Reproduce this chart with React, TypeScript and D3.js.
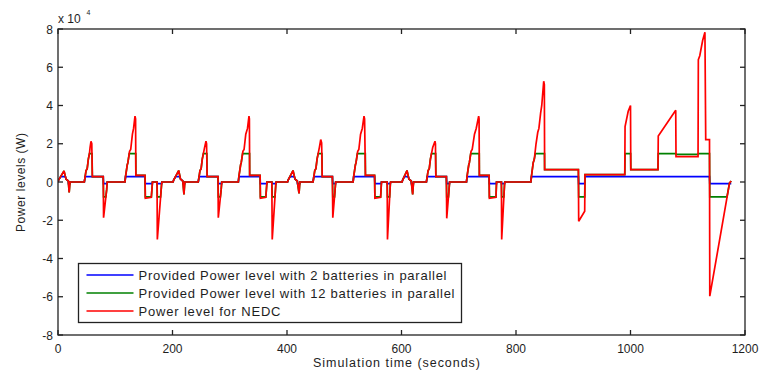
import React from 'react';
import * as d3 from 'd3';

type Pt = [number, number];

// Time axis (seconds) and power axis (W)
const xTicks = [0, 200, 400, 600, 800, 1000, 1200];
const yTicks = [-80000, -60000, -40000, -20000, 0, 20000, 40000, 60000, 80000];

const legendLabels = [
  'Provided Power level with 2 batteries  in parallel',
  'Provided Power level with 12 batteries  in parallel',
  'Power level for NEDC',
];

// Power demanded by the NEDC cycle (W)
const powerNEDC: Pt[] = [
  // urban cycle 1
  [0, 0], [1, 1000], [10.5, 5800], [14, 1500], [18, 500], [19.5, -5500], [21, 0],
  [46, 0], [47, 2000], [49, 6000], [51, 7000], [53, 12000], [55, 15000], [56, 18000], [57.6, 21300], [59, 20000], [60, 2800],
  [79, 2800], [79.6, -18700], [85, -4000], [86, 0],
  [117, 0], [118, 3000], [121, 9000], [122, 10000], [125, 16000], [127, 17000], [130, 25000], [132, 28000], [134.5, 34400], [135.5, 33000], [136, 3500],
  [152, 3500], [152.5, -8500], [163, -8000], [165, 0],
  [173, 0], [173.5, -30000], [181, -1000], [181.5, 0],
  // urban cycle 2
  [201, 0], [202, 1000], [210.8, 6000], [214, 1500], [218, 500], [220, -6500], [221.5, 0],
  [245, 0], [246, 2000], [248, 6000], [250, 7000], [252, 12000], [254, 15000], [256, 18000], [258.5, 21300], [259.5, 20000], [260.5, 2800],
  [279.5, 2800], [280, -18700], [285, -4000], [286, 0],
  [315, 0], [316, 3000], [319, 9000], [320, 10000], [323, 16000], [325, 17000], [328, 25000], [331, 28000], [333.6, 34400], [334.3, 33000], [334.8, 3500],
  [353, 3500], [353.5, -8500], [363, -8000], [365, 0],
  [373.5, 0], [374.2, -30000], [380.5, -1000], [381, 0],
  // urban cycle 3
  [401, 0], [402, 1000], [410.5, 6000], [414, 1500], [418, 500], [421, -6000], [422.5, 0],
  [445.5, 0], [446.5, 2000], [448.5, 6000], [450.5, 7000], [452.5, 12000], [454.5, 15000], [456.5, 18000], [458.9, 22200], [460.5, 20500], [461.5, 2800],
  [479.3, 2800], [480, -18700], [484, -4000], [485, 0],
  [515.5, 0], [516.5, 3000], [519.5, 9000], [520.5, 10000], [523.5, 16000], [525.5, 17000], [528.5, 25000], [531.5, 28000], [534.5, 34400], [535.5, 33000], [537, 3500],
  [553, 3500], [553.5, -8500], [563.5, -8000], [565, 0],
  [575, 0], [575.5, -30000], [580.5, -1000], [581, 0],
  // urban cycle 4
  [601, 0], [602, 1000], [609.6, 6000], [613, 1500], [617, 500], [619.5, -6500], [621, 0],
  [643.5, 0], [644.5, 2000], [646.5, 6000], [648.5, 7000], [650.5, 12000], [652.5, 15000], [654.5, 18000], [658.5, 21300], [659.3, 20000], [660, 2800],
  [678.4, 2800], [679, -19000], [683, -4000], [684, 0],
  [713.5, 0], [714.5, 3000], [717.5, 9000], [718.5, 10000], [721.5, 16000], [723.5, 17000], [727.5, 25000], [730.5, 28000], [734.8, 34400], [735.5, 33000], [736, 3500],
  [753, 3500], [753.5, -8500], [765, -8000], [766, 0],
  [774.5, 0], [775, -30000], [780, -1000], [780.5, 0],
  // extra-urban cycle
  [826, 0], [827, 3000], [830, 10000], [832, 12000], [835, 20000], [838, 26000], [840, 28000], [843, 36000], [845, 40000], [848.4, 52700], [849.5, 51000], [850, 6500],
  [909, 6500], [909.5, -20500], [920, -15300], [920.5, 3900],
  [990, 3900], [990.5, 29000], [996, 37000], [1000, 40000], [1000.5, 6500],
  [1048, 6500], [1048.5, 24000], [1079, 37500], [1079.5, 13300],
  [1118, 13300], [1118.5, 64000], [1121, 66000], [1126, 74000], [1130, 78300], [1131.4, 22200],
  [1138, 22200], [1138.5, -59700], [1173, -500], [1176, 500],
];

// Power provided with 2 batteries in parallel (W)
const power2Batt: Pt[] = [
  [0, 0], [1, 1000], [4.8, 2800], [12.9, 2800], [14, 1500], [18, 500], [18.3, -800], [20.8, -800], [21, 0],
  [46, 0], [47, 2000], [47.3, 2800], [79, 2800], [79.6, -800], [85.8, -800], [86, 0],
  [117, 0], [118, 2800], [152, 2800], [152.5, -800], [164.8, -800], [165, 0],
  [173, 0], [173.1, -800], [181, -800], [181.5, 0],
  [201, 0], [202, 1000], [205.5, 2800], [213, 2800], [214, 1500], [218, 500], [218.3, -800], [221.3, -800], [221.5, 0],
  [245, 0], [246, 2000], [246.3, 2800], [279.5, 2800], [280, -800], [285.8, -800], [286, 0],
  [315, 0], [316, 2800], [353, 2800], [353.5, -800], [364.8, -800], [365, 0],
  [373.5, 0], [373.6, -800], [380.5, -800], [381, 0],
  [401, 0], [402, 1000], [405.5, 2800], [412.7, 2800], [414, 1500], [418, 500], [418.3, -800], [422.3, -800], [422.5, 0],
  [445.5, 0], [446.5, 2000], [446.8, 2800], [479.3, 2800], [480, -800], [484.8, -800], [485, 0],
  [515.5, 0], [516.5, 2800], [553, 2800], [553.5, -800], [564.8, -800], [565, 0],
  [575, 0], [575.1, -800], [580.5, -800], [581, 0],
  [601, 0], [602, 1000], [605, 2800], [611.8, 2800], [613, 1500], [617, 500], [617.3, -800], [620.8, -800], [621, 0],
  [643.5, 0], [644.5, 2000], [644.8, 2800], [678.4, 2800], [679, -800], [683.8, -800], [684, 0],
  [713.5, 0], [714.5, 2800], [753, 2800], [753.5, -800], [765.9, -800], [766, 0],
  [774.5, 0], [774.6, -800], [780, -800], [780.5, 0],
  [826, 0], [827, 2800], [909, 2800], [909.5, -800], [920, -800], [920.5, 2800],
  [1138, 2800], [1138.5, -800], [1176, -800],
];

// Power provided with 12 batteries in parallel (W)
const power12Batt: Pt[] = [
  [0, 0], [1, 1000], [10.5, 5800], [14, 1500], [18, 500], [19.5, -5500], [21, 0],
  [46, 0], [47, 2000], [49, 6000], [51, 7000], [53, 12000], [54.9, 14800], [59.5, 14800], [60, 2800],
  [79, 2800], [79.6, -7800], [83.6, -7800], [85, -4000], [86, 0],
  [117, 0], [118, 3000], [121, 9000], [122, 10000], [124.4, 14800], [135.8, 14800], [136, 3500],
  [152, 3500], [152.5, -7800], [163.1, -7800], [165, 0],
  [173, 0], [173.5, -7800], [179.2, -7800], [181, -1000], [181.5, 0],
  [201, 0], [202, 1000], [210.8, 6000], [214, 1500], [218, 500], [220, -6500], [221.5, 0],
  [245, 0], [246, 2000], [248, 6000], [250, 7000], [252, 12000], [253.9, 14800], [260, 14800], [260.5, 2800],
  [279.5, 2800], [280, -7800], [283.6, -7800], [285, -4000], [286, 0],
  [315, 0], [316, 3000], [319, 9000], [320, 10000], [322.4, 14800], [334.6, 14800], [334.8, 3500],
  [353, 3500], [353.5, -7800], [363.1, -7800], [365, 0],
  [373.5, 0], [374.2, -7800], [379, -7800], [380.5, -1000], [381, 0],
  [401, 0], [402, 1000], [410.5, 6000], [414, 1500], [418, 500], [421, -6000], [422.5, 0],
  [445.5, 0], [446.5, 2000], [448.5, 6000], [450.5, 7000], [452.5, 12000], [454.4, 14800], [461, 14800], [461.5, 2800],
  [479.3, 2800], [480, -7800], [483.1, -7800], [484, -4000], [485, 0],
  [515.5, 0], [516.5, 3000], [519.5, 9000], [520.5, 10000], [522.9, 14800], [536.8, 14800], [537, 3500],
  [553, 3500], [553.5, -7800], [563.6, -7800], [565, 0],
  [575, 0], [575.5, -7800], [579.3, -7800], [580.5, -1000], [581, 0],
  [601, 0], [602, 1000], [609.6, 6000], [613, 1500], [617, 500], [619.5, -6500], [621, 0],
  [643.5, 0], [644.5, 2000], [646.5, 6000], [648.5, 7000], [650.5, 12000], [652.4, 14800], [659.6, 14800], [660, 2800],
  [678.4, 2800], [679, -7800], [682.1, -7800], [683, -4000], [684, 0],
  [713.5, 0], [714.5, 3000], [717.5, 9000], [718.5, 10000], [720.9, 14800], [735.8, 14800], [736, 3500],
  [753, 3500], [753.5, -7800], [765.1, -7800], [766, 0],
  [774.5, 0], [775, -7800], [778.8, -7800], [780, -1000], [780.5, 0],
  [826, 0], [827, 3000], [830, 10000], [832, 12000], [833.7, 14800], [849.8, 14800], [850, 6500],
  [909, 6500], [909.5, -7800], [920, -7800], [920.5, 3900],
  [990, 3900], [990.5, 14800], [1000.2, 14800], [1000.5, 6500],
  [1048, 6500], [1048.5, 14800], [1079.2, 14800], [1079.5, 14400],
  [1118, 14400], [1118.5, 14800], [1138, 14800], [1138.5, -7800], [1168.5, -7800], [1173, -500], [1176, 500],
];

const series = [
  { data: power2Batt, color: '#0000ff' },
  { data: power12Batt, color: '#008000' },
  { data: powerNEDC, color: '#ff0000' },
];

const FONT = '"Liberation Sans", Arial, sans-serif';
const TXT = '#1e1e1e';

export default function App() {
  const W = 760;
  const H = 374;
  const x0 = 58, x1 = 745, yTop = 29, yBot = 335;
  const x = d3.scaleLinear().domain([0, 1200]).range([x0, x1]);
  const y = d3.scaleLinear().domain([-80000, 80000]).range([yBot, yTop]);
  const line = d3.line<Pt>().x(d => x(d[0])).y(d => y(d[1]));
  const tl = 5;

  const legX = 78.5, legY = 263.5, legW = 383, legH = 59;
  const rowY = [275, 293, 311];
  const legLen = [308, 316, 142];

  return (
    <svg width={W} height={H} style={{ position: 'absolute', left: 0, top: 0, background: '#fff' }}
      xmlns="http://www.w3.org/2000/svg">
      <rect x={0} y={0} width={W} height={H} fill="#fff" />
      <defs>
        <clipPath id="plotclip">
          <rect x={x0} y={yTop} width={x1 - x0} height={yBot - yTop} />
        </clipPath>
      </defs>

      <g clipPath="url(#plotclip)">
        {series.map((s, i) => (
          <path key={i} d={line(s.data) || ''} fill="none" stroke={s.color} strokeWidth={1.7}
            strokeLinejoin="miter" strokeMiterlimit={2} />
        ))}
      </g>

      {/* frame */}
      <rect x={x0} y={yTop} width={x1 - x0} height={yBot - yTop} fill="none" stroke="#222" strokeWidth={1.3} />

      {/* x ticks */}
      {xTicks.map(t => (
        <g key={'x' + t}>
          <line x1={x(t)} x2={x(t)} y1={yBot} y2={yBot - tl} stroke="#222" strokeWidth={1.3} />
          <line x1={x(t)} x2={x(t)} y1={yTop} y2={yTop + tl} stroke="#222" strokeWidth={1.3} />
          <text x={x(t)} y={353} textAnchor="middle" fontFamily={FONT} fontSize={12} fill={TXT}>{t}</text>
        </g>
      ))}

      {/* y ticks */}
      {yTicks.map(v => (
        <g key={'y' + v}>
          <line x1={x0} x2={x0 + tl} y1={y(v)} y2={y(v)} stroke="#222" strokeWidth={1.3} />
          <line x1={x1} x2={x1 - tl} y1={y(v)} y2={y(v)} stroke="#222" strokeWidth={1.3} />
          <text x={53} y={y(v) + 4.5} textAnchor="end" fontFamily={FONT} fontSize={12} fill={TXT}>{String(v / 10000)}</text>
        </g>
      ))}

      {/* exponent */}
      <text x={58} y={23} fontFamily={FONT} fontSize={12} fill={TXT}>x 10</text>
      <text x={86.5} y={15} fontFamily={FONT} fontSize={7} fill={TXT}>4</text>

      {/* axis labels */}
      <text x={396.5} y={367} textAnchor="middle" fontFamily={FONT} fontSize={12.5} fill={TXT}
        textLength={167} lengthAdjust="spacing">Simulation time (seconds)</text>
      <text transform="translate(25,182.5) rotate(-90)" textAnchor="middle" fontFamily={FONT} fontSize={12}
        fill={TXT} textLength={99} lengthAdjust="spacing">Power levels (W)</text>

      {/* legend */}
      <rect x={legX} y={legY} width={legW} height={legH} fill="#fff" stroke="#222" strokeWidth={1.3} />
      {series.map((s, i) => (
        <g key={'l' + i}>
          <line x1={86.5} x2={133.5} y1={rowY[i]} y2={rowY[i]} stroke={s.color} strokeWidth={1.7} />
          <text x={138.5} y={rowY[i] + 4.8} fontFamily={FONT} fontSize={13} fill={TXT}
            textLength={legLen[i]} lengthAdjust="spacing">{legendLabels[i]}</text>
        </g>
      ))}
    </svg>
  );
}
